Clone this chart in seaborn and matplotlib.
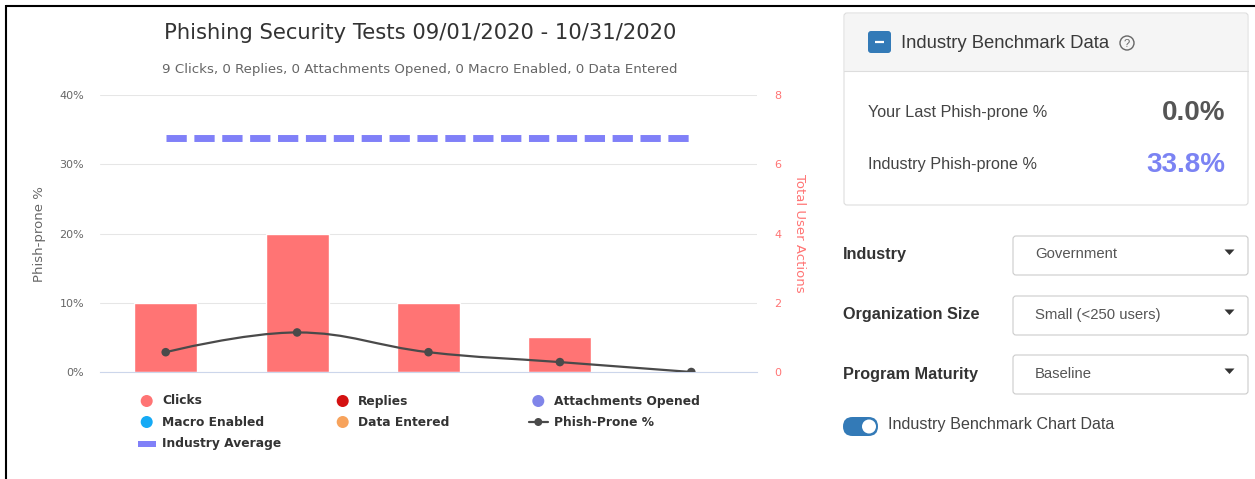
import numpy as np
import matplotlib
matplotlib.use("Agg")
import matplotlib.pyplot as plt
import seaborn as sns
from matplotlib.patches import FancyBboxPatch, Circle, Rectangle, Polygon, PathPatch
from matplotlib.path import Path

# ---------------- data ----------------
tests = ["Test 1", "Test 2", "Test 3", "Test 4", "Test 5"]
clicks = [2, 4, 2, 1, 0]
phish_prone_pct = [2.86, 5.71, 2.86, 1.43, 0.0]
industry_avg_pct = 33.8
last_phish_prone_pct = 0.0
totals = {"Clicks": 9, "Replies": 0, "Attachments Opened": 0,
          "Macro Enabled": 0, "Data Entered": 0}
pct_ticks = [0, 10, 20, 30, 40]
action_ticks = [0, 2, 4, 6, 8]
title = "Phishing Security Tests 09/01/2020 - 10/31/2020"
industry = "Government"
org_size = "Small (<250 users)"
maturity = "Baseline"

# ---------------- style ----------------
sns.set_theme(style="white")
plt.rcParams["font.family"] = ["DejaVu Sans"]
UIF = "Liberation Sans"

W, H = 1255, 479
fig = plt.figure(figsize=(W / 100, H / 100), dpi=100, facecolor="white")

ui = fig.add_axes([0, 0, 1, 1])
ui.set_xlim(0, W)
ui.set_ylim(H, 0)
ui.axis("off")
ui.set_zorder(0)

# chart axes (pixel geometry)
L, R, T, B = 100, 757, 95, 372
ax = fig.add_axes([L / W, (H - B) / H, (R - L) / W, (B - T) / H])
ax2 = ax.twinx()
ax2.set_zorder(1)
ax.set_zorder(2)
ax.patch.set_visible(False)
ax2.patch.set_visible(False)

BAR = "#ff7474"
LINE = "#4a4a4a"
AVG = "#8080f8"

# bars on the right (count) axis
sns.barplot(x=tests, y=clicks, ax=ax2, color=BAR, saturation=1, width=0.48)
ax2.set_ylim(0, 8)
ax2.set_yticks(action_ticks)
ax2.set_yticklabels([str(t) for t in action_ticks])
ax2.grid(axis="y", color="#e6e6e6", linewidth=0.75)
ax2.set_axisbelow(True)
ax2.tick_params(axis="y", colors=BAR, labelsize=8, length=0, pad=12.2)
for s in ["top", "left", "right"]:
    ax2.spines[s].set_visible(False)
ax2.spines["bottom"].set_color("#ccd6eb")
ax2.spines["bottom"].set_linewidth(0.8)
ax2.set_ylabel("")

# left (percent) axis
xpos = np.arange(len(tests))
ax.set_xlim(-0.5, len(tests) - 0.5)
ax.set_ylim(0, 40)
ax.set_yticks(pct_ticks)
ax.set_yticklabels([f"{t}%" for t in pct_ticks])
ax.tick_params(axis="y", colors="#666666", labelsize=8, length=0, pad=11.5)
ax.tick_params(axis="x", bottom=False, labelbottom=False)
for s in ax.spines.values():
    s.set_visible(False)
ax.grid(False)

# smooth (spline) phish-prone line, control points like Highcharts
def spline_path(xs, ys, smoothing=1.5):
    n = len(xs)
    lc = [(x, y) for x, y in zip(xs, ys)]
    rc = [(x, y) for x, y in zip(xs, ys)]
    den = smoothing + 1
    for i in range(1, n - 1):
        x, y = xs[i], ys[i]
        lx, ly, nx, ny = xs[i - 1], ys[i - 1], xs[i + 1], ys[i + 1]
        lcx = (smoothing * x + lx) / den
        lcy = (smoothing * y + ly) / den
        rcx = (smoothing * x + nx) / den
        rcy = (smoothing * y + ny) / den
        corr = 0
        if rcx != lcx:
            corr = ((rcy - lcy) * (rcx - x)) / (rcx - lcx) + y - rcy
        lcy += corr
        rcy += corr
        if lcy > ly and lcy > y:
            lcy = max(ly, y); rcy = 2 * y - lcy
        elif lcy < ly and lcy < y:
            lcy = min(ly, y); rcy = 2 * y - lcy
        if rcy > ny and rcy > y:
            rcy = max(ny, y); lcy = 2 * y - rcy
        elif rcy < ny and rcy < y:
            rcy = min(ny, y); lcy = 2 * y - rcy
        lc[i] = (lcx, lcy)
        rc[i] = (rcx, rcy)
    verts = [(xs[0], ys[0])]
    codes = [Path.MOVETO]
    for i in range(1, n):
        verts += [rc[i - 1], lc[i], (xs[i], ys[i])]
        codes += [Path.CURVE4] * 3
    return Path(verts, codes)

ax.add_patch(PathPatch(spline_path(list(xpos), phish_prone_pct), facecolor="none",
                       edgecolor=LINE, linewidth=1.6, transform=ax.transData, zorder=3))
sns.scatterplot(x=xpos, y=phish_prone_pct, ax=ax, color=LINE, s=38,
                edgecolor="none", zorder=4, legend=False)

# industry average dashed line
ax.plot([xpos[0], xpos[-1]], [industry_avg_pct, industry_avg_pct], color=AVG,
        linewidth=5, dashes=(2.92, 1.095), solid_capstyle="butt",
        dash_capstyle="butt", zorder=2.5)

# ---------------- texts on chart ----------------
ui.text(420, 33, title, ha="center", va="center", fontsize=15.2, color="#333333")
sub = ", ".join(f"{v} {k}" for k, v in totals.items())
ui.text(419.5, 69, sub, ha="center", va="center", fontsize=9.6, color="#666666")
ui.text(39, 234, "Phish-prone %", rotation=90, ha="center", va="center",
        fontsize=9.5, color="#666666")
ui.text(799, 233.5, "Total User Actions", rotation=270, ha="center", va="center",
        fontsize=9.5, color=BAR)

# legend
leg = [
    ("Clicks", "circle", BAR, 146.7, 401),
    ("Replies", "circle", "#d41111", 342.7, 401),
    ("Attachments Opened", "circle", "#8085e9", 538.3, 401),
    ("Macro Enabled", "circle", "#15aaf5", 146.7, 422),
    ("Data Entered", "circle", "#f7a35c", 342.7, 422),
    ("Phish-Prone %", "line", LINE, 538.3, 422),
    ("Industry Average", "rect", AVG, 146.7, 443.5),
]
for name, kind, col, cx, cy in leg:
    if kind == "circle":
        ui.add_patch(Circle((cx, cy), 6, facecolor=col, edgecolor="none"))
    elif kind == "line":
        ui.plot([cx - 9.5, cx + 9.5], [cy, cy], color=col, lw=1.6)
        ui.add_patch(Circle((cx, cy), 4, facecolor=col, edgecolor="none"))
    else:
        ui.add_patch(Rectangle((cx - 9, cy - 3), 18, 6, facecolor=col, edgecolor="none"))
    ui.text(cx + 15.5, cy, name, ha="left", va="center", fontsize=8.8,
            fontweight="bold", color="#333333")

# ---------------- right panel ----------------
ui.add_patch(Rectangle((845, 14), 402, 57, facecolor="#f5f5f5", edgecolor="none"))
ui.plot([844, 1248], [71, 71], color="#dddddd", lw=0.8)
ui.add_patch(FancyBboxPatch((844, 13), 404, 192, boxstyle="round,pad=0,rounding_size=3",
                            facecolor="none", edgecolor="#dddddd", lw=0.8))
ui.add_patch(FancyBboxPatch((868, 31), 23, 22, boxstyle="round,pad=0,rounding_size=3",
                            facecolor="#337ab7", edgecolor="none"))
ui.plot([875, 884], [42, 42], color="white", lw=1.6, solid_capstyle="butt")
ui.text(901, 43, "Industry Benchmark Data", ha="left", va="center", fontsize=13.3,
        color="#3a3a3a", family=UIF)
ui.add_patch(Circle((1127, 43), 7, facecolor="none", edgecolor="#666666", lw=1))
ui.text(1127, 43.5, "?", ha="center", va="center", fontsize=8, color="#666666", family=UIF)

ui.text(868, 112, "Your Last Phish-prone %", ha="left", va="center", fontsize=11.7,
        color="#444444", family=UIF)
ui.text(1225, 112.5, f"{last_phish_prone_pct:.1f}%", ha="right", va="center",
        fontsize=20, fontweight="bold", color="#555555", family=UIF)
ui.text(868, 165, "Industry Phish-prone %", ha="left", va="center", fontsize=11.7,
        color="#444444", family=UIF)
ui.text(1225, 165, f"{industry_avg_pct:.1f}%", ha="right", va="center",
        fontsize=20, fontweight="bold", color="#7b83f3", family=UIF)

rows = [("Industry", industry, 255, 236), ("Organization Size", org_size, 315, 296),
        ("Program Maturity", maturity, 374, 355)]
for lab, val, ty, by in rows:
    ui.text(843, ty, lab, ha="left", va="center", fontsize=11.7, fontweight="bold",
            color="#333333", family=UIF)
    ui.add_patch(FancyBboxPatch((1013, by), 235, 39, boxstyle="round,pad=0,rounding_size=3",
                                facecolor="white", edgecolor="#cccccc", lw=0.8))
    ui.text(1035, by + 18.5, val, ha="left", va="center", fontsize=10.7,
            color="#555555", family=UIF)
    ui.add_patch(Polygon([(1224.5, by + 13.5), (1234.5, by + 13.5), (1229.5, by + 19)],
                         closed=True, facecolor="#333333", edgecolor="none"))

ui.add_patch(FancyBboxPatch((843, 417), 35, 19, boxstyle="round,pad=0,rounding_size=9.5",
                            facecolor="#337ab7", edgecolor="none"))
ui.add_patch(Circle((869, 426.5), 7, facecolor="white", edgecolor="none"))
ui.text(888, 425, "Industry Benchmark Chart Data", ha="left", va="center", fontsize=11.6,
        color="#444444", family=UIF)

# frame lines
ui.plot([6, W], [6, 6], color="black", lw=1.5, solid_capstyle="butt")
ui.plot([6, 6], [5.3, H], color="black", lw=1.5, solid_capstyle="butt")

fig.savefig("out.png", dpi=100, facecolor="white")
